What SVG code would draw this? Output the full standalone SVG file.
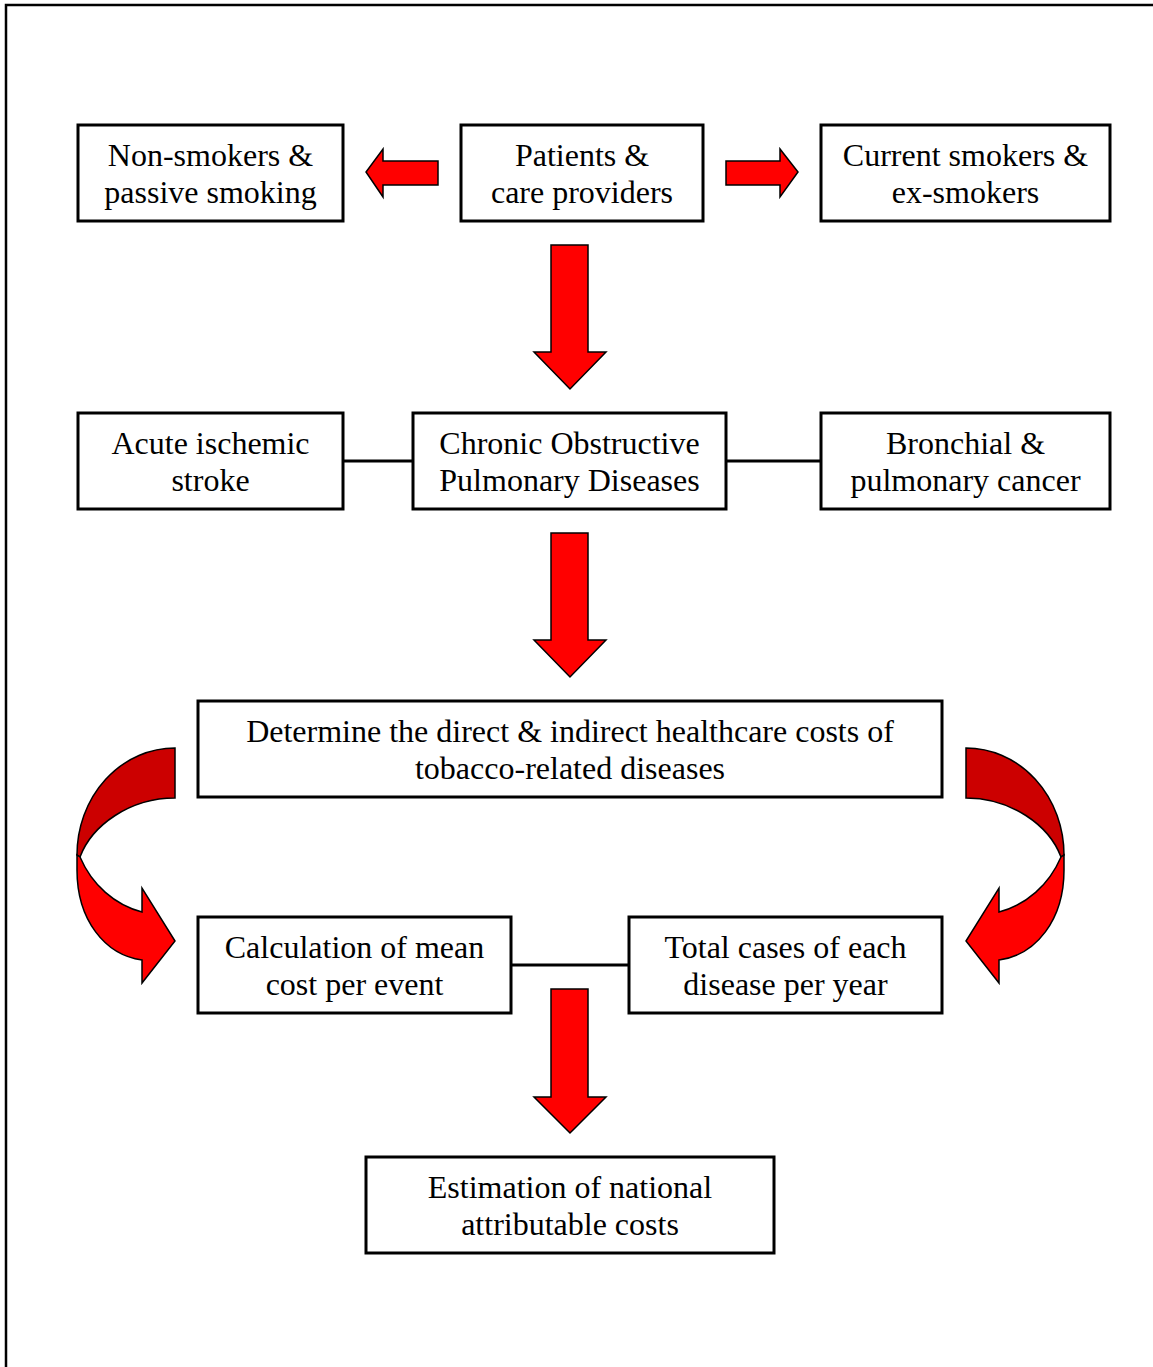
<svg xmlns="http://www.w3.org/2000/svg" width="1153" height="1367" viewBox="0 0 1153 1367">
<style>
.box{fill:#fff;stroke:#000;stroke-width:3}
.t{font-family:'Liberation Serif','DejaVu Serif',serif;font-size:32px;fill:#000;text-anchor:middle}
.arr{fill:#f00;stroke:#000;stroke-width:1.5;stroke-linejoin:miter}
.dark{fill:#c00;stroke:#000;stroke-width:1.5}
.line{stroke:#000;stroke-width:3;fill:none}
</style>
<rect x="0" y="0" width="1153" height="1367" fill="#fff"/>
<path d="M6,1367 V5 H1153" fill="none" stroke="#000" stroke-width="2.5"/>
<g id="connectors">
<line class="line" x1="343" y1="461" x2="413" y2="461"/>
<line class="line" x1="726" y1="461" x2="821" y2="461"/>
<line class="line" x1="511" y1="965" x2="629" y2="965"/>
<path class="arr" d="M438,161 H383 V149 L366,172 L383,197 V185 H438 Z"/>
<path class="arr" d="M726,161 H780 V149 L798,172 L780,197 V185 H726 Z"/>
<path class="arr" d="M551,245 H588 V352 H606 L570,389 L534,352 H551 Z"/>
<path class="arr" d="M551,533 H588 V640 H606 L570,677 L534,640 H551 Z"/>
<path class="arr" d="M551,989 H588 V1097 H606 L570,1133 L534,1097 H551 Z"/>
<g id="curve-left">
<path class="dark" d="M175,748 A98,107 0 0 0 77,855 L80,857 C92,825 130,798 175,798 Z"/>
<path class="arr" d="M80,857 C92,885 115,905 142,912 L142,888 L175,941 L142,983 L142,960 C105,955 77,920 77,870 L77,855 Z"/>
</g>
<g id="curve-right" transform="matrix(-1 0 0 1 1141 0)">
<path class="dark" d="M175,748 A98,107 0 0 0 77,855 L80,857 C92,825 130,798 175,798 Z"/>
<path class="arr" d="M80,857 C92,885 115,905 142,912 L142,888 L175,941 L142,983 L142,960 C105,955 77,920 77,870 L77,855 Z"/>
</g>
</g>
<g font-family="Liberation Serif, DejaVu Serif, serif">
<g id="n1"><rect class="box" x="78" y="125" width="265" height="96"/><text class="t" x="210.5" y="166">Non-smokers &amp;</text><text class="t" x="210.5" y="203">passive smoking</text></g>
<g id="n2"><rect class="box" x="461" y="125" width="242" height="96"/><text class="t" x="582" y="166">Patients &amp;</text><text class="t" x="582" y="203">care providers</text></g>
<g id="n3"><rect class="box" x="821" y="125" width="289" height="96"/><text class="t" x="965.5" y="166">Current smokers &amp;</text><text class="t" x="965.5" y="203">ex-smokers</text></g>
<g id="n4"><rect class="box" x="78" y="413" width="265" height="96"/><text class="t" x="210.5" y="454">Acute ischemic</text><text class="t" x="210.5" y="491">stroke</text></g>
<g id="n5"><rect class="box" x="413" y="413" width="313" height="96"/><text class="t" x="569.5" y="454">Chronic Obstructive</text><text class="t" x="569.5" y="491">Pulmonary Diseases</text></g>
<g id="n6"><rect class="box" x="821" y="413" width="289" height="96"/><text class="t" x="965.5" y="454">Bronchial &amp;</text><text class="t" x="965.5" y="491">pulmonary cancer</text></g>
<g id="n7"><rect class="box" x="198" y="701" width="744" height="96"/><text class="t" x="570" y="742">Determine the direct &amp; indirect healthcare costs of</text><text class="t" x="570" y="779">tobacco-related diseases</text></g>
<g id="n8"><rect class="box" x="198" y="917" width="313" height="96"/><text class="t" x="354.5" y="958">Calculation of mean</text><text class="t" x="354.5" y="995">cost per event</text></g>
<g id="n9"><rect class="box" x="629" y="917" width="313" height="96"/><text class="t" x="785.5" y="958">Total cases of each</text><text class="t" x="785.5" y="995">disease per year</text></g>
<g id="n10"><rect class="box" x="366" y="1157" width="408" height="96"/><text class="t" x="570" y="1198">Estimation of national</text><text class="t" x="570" y="1235">attributable costs</text></g>
</g>
</svg>
